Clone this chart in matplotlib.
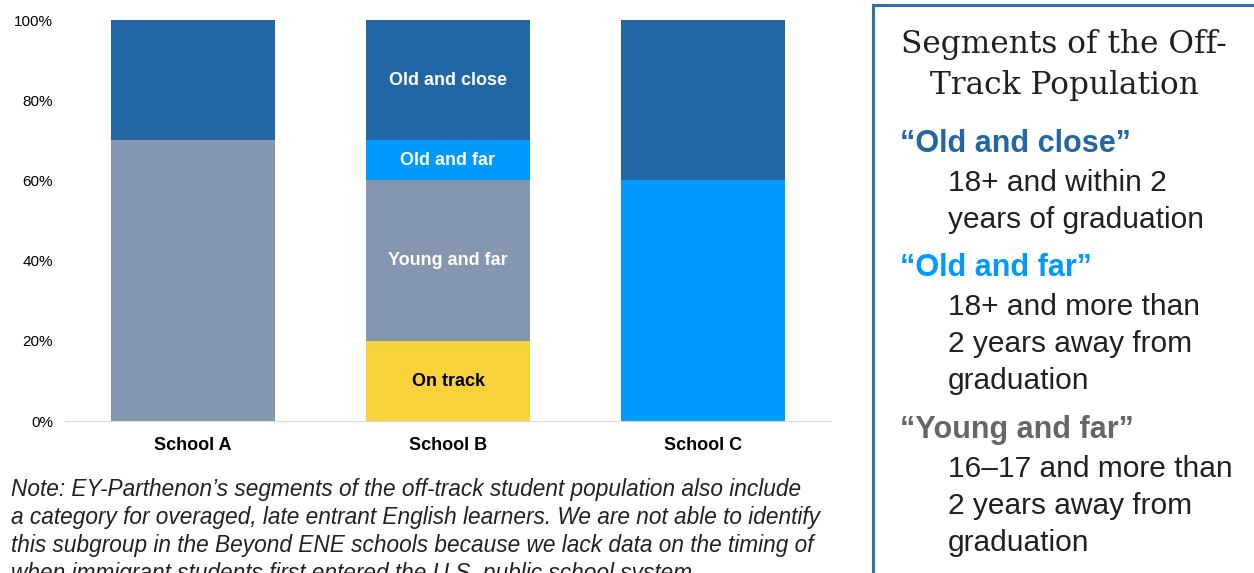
import matplotlib.pyplot as plt
from matplotlib.patches import Rectangle
import numpy as np

schools = ["School A", "School B", "School C"]
segments = ["On track", "Young and far", "Old and far", "Old and close"]
on_track = [0, 20, 0]
young_far = [70, 40, 0]
old_far = [0, 10, 60]
old_close = [30, 30, 40]
yticks = [0, 20, 40, 60, 80, 100]

colors = ["#f8d23a", "#8496b0", "#0099fe", "#2166a5"]
text_colors = ["black", "white", "white", "white"]

plt.rcParams['font.family'] = ['Liberation Sans', 'DejaVu Sans']

fig = plt.figure(figsize=(12.54, 5.73), dpi=100)
ax = fig.add_axes([65.5 / 1254, 0.265, 765 / 1254, 0.7])

x = np.arange(len(schools))
series = [on_track, young_far, old_far, old_close]
bottom = np.zeros(len(schools))
for name, vals, c, tc in zip(segments, series, colors, text_colors):
    vals = np.array(vals, dtype=float)
    ax.bar(x, vals, bottom=bottom, width=0.643, color=c, linewidth=0)
    # labels only on School B
    i = 1
    if vals[i] > 0:
        ax.text(x[i], bottom[i] + vals[i] / 2, name, ha='center', va='center',
                color=tc, fontsize=13, fontweight='bold')
    bottom += vals

ax.set_xlim(-0.5, 2.5)
ax.set_ylim(0, 100)
ax.set_yticks(yticks)
ax.set_yticklabels([f"{t}%" for t in yticks], fontsize=11)
ax.set_xticks(x)
ax.set_xticklabels(schools, fontsize=13, fontweight='bold')
ax.tick_params(length=0)
ax.tick_params(axis='y', pad=9)
ax.tick_params(axis='x', pad=11.5)
for s in ['top', 'right', 'left']:
    ax.spines[s].set_visible(False)
ax.spines['bottom'].set_color('#d9d9d9')

note = ("Note: EY-Parthenon\u2019s segments of the off-track student population also include\n"
        "a category for overaged, late entrant English learners. We are not able to identify\n"
        "this subgroup in the Beyond ENE schools because we lack data on the timing of\n"
        "when immigrant students first entered the U.S. public school system.")
fig.text(0.009, 1 - 478 / 573, note, fontsize=16.3, style='italic', color='#222222',
         va='top', ha='left', linespacing=1.28)

# right side panel
box = Rectangle((873 / 1254, -0.05), 0.4, 1 - 5 / 573 + 0.05, transform=fig.transFigure,
                fill=False, edgecolor='#2f6db5', linewidth=2.2)
fig.patches.append(box)

fig.text(1064 / 1254, 1 - 65 / 573, "Segments of the Off-\nTrack Population",
         fontsize=22.5, family='DejaVu Serif', color='#231f20', ha='center', va='center',
         linespacing=1.38)

panel = [
    ("\u201cOld and close\u201d", "#2166a5", 144, ["18+ and within 2", "years of graduation"]),
    ("\u201cOld and far\u201d", "#0099fe", 268, ["18+ and more than", "2 years away from", "graduation"]),
    ("\u201cYoung and far\u201d", "#666666", 430, ["16\u201317 and more than", "2 years away from", "graduation"]),
]
for head, c, ypix, lines in panel:
    fig.text(900 / 1254, 1 - ypix / 573, head, fontsize=22, fontweight='bold',
             color=c, ha='left', va='center')
    for k, ln in enumerate(lines):
        fig.text(948 / 1254, 1 - (ypix + 39 + 37 * k) / 573, ln, fontsize=21.5,
                 color='#231f20', ha='left', va='center')

fig.savefig("out.png", dpi=100)
